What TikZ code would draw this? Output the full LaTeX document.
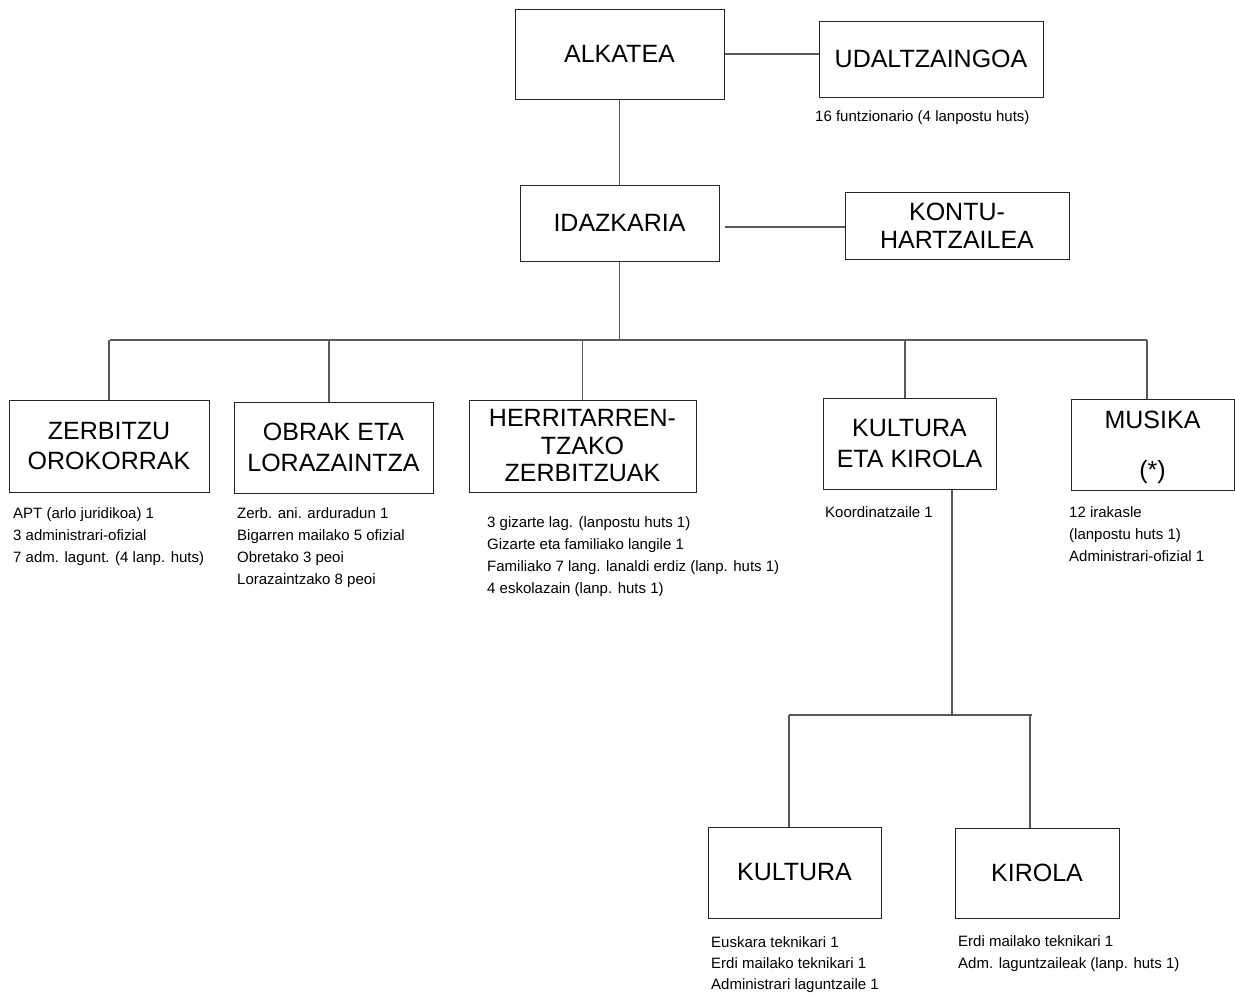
\documentclass[tikz,border=0pt]{standalone}
\usepackage{fontspec}
\setmainfont{Liberation Sans}
\begin{document}
\begin{tikzpicture}[x=1pt,y=-1pt,
  box/.style={draw=black!85, line width=1pt, align=center, inner sep=0pt, font=\fontsize{25}{30}\selectfont},
  link/.style={draw=black!65, line width=1.3pt},
  note/.style={anchor=north west, inner sep=0pt, align=left, font=\fontsize{15}{22}\selectfont}]
\useasboundingbox (0,0) rectangle (1235,993);

% boxes
\node[box, minimum width=209, minimum height=90] (alk) at (619.5,54) {ALKATEA};
\node[box, minimum width=224, minimum height=76] (uda) at (931,59) {UDALTZAINGOA};
\node[box, minimum width=199, minimum height=76] (ida) at (619.5,223) {IDAZKARIA};
\node[box, minimum width=224, minimum height=67, font=\fontsize{25}{28}\selectfont] (kon) at (957,225.5) {KONTU-\\HARTZAILEA};
\node[box, minimum width=200, minimum height=92] (zer) at (109,446) {ZERBITZU\\OROKORRAK};
\node[box, minimum width=199, minimum height=91, font=\fontsize{25}{31}\selectfont] (obr) at (333.5,447.5) {OBRAK ETA\\LORAZAINTZA};
\node[box, minimum width=227, minimum height=92, font=\fontsize{25}{27.5}\selectfont] (her) at (582.5,446) {HERRITARREN-\\TZAKO\\ZERBITZUAK};
\node[box, minimum width=173, minimum height=91, font=\fontsize{25}{31}\selectfont] (kek) at (909.5,443.5) {KULTURA\\ETA KIROLA};
\node[box, minimum width=163, minimum height=91, font=\fontsize{25}{50}\selectfont] (mus) at (1152.5,444.5) {\rule{0pt}{24pt}MUSIKA\\(*)};
\node[box, minimum width=173, minimum height=91] (kul) at (794.5,872.5) {KULTURA};
\node[box, minimum width=164, minimum height=90] (kir) at (1037,873) {KIROLA};

% notes
\node[note] (nuda) at (815,110) {16 funtzionario (4 lanpostu huts)};
\node[note] (nzer) at (13,507) {APT (arlo juridikoa) 1\\3 administrari-ofizial\\7 adm. lagunt. (4 lanp. huts)};
\node[note] (nobr) at (237,507) {Zerb. ani. arduradun 1\\Bigarren mailako 5 ofizial\\Obretako 3 peoi\\Lorazaintzako 8 peoi};
\node[note] (nher) at (487,516) {3 gizarte lag. (lanpostu huts 1)\\Gizarte eta familiako langile 1\\Familiako 7 lang. lanaldi erdiz (lanp. huts 1)\\4 eskolazain (lanp. huts 1)};
\node[note] (nkek) at (825,506) {Koordinatzaile 1};
\node[note] (nmus) at (1069,506) {12 irakasle\\(lanpostu huts 1)\\Administrari-ofizial 1};
\node[note, font=\fontsize{15}{21}\selectfont] (nkul) at (711,936) {Euskara teknikari 1\\Erdi mailako teknikari 1\\Administrari laguntzaile 1};
\node[note] (nkir) at (958,935) {Erdi mailako teknikari 1\\Adm. laguntzaileak (lanp. huts 1)};

% connectors, top
\draw[link] (alk.east) -- (alk.east -| uda.west);
\draw[link] (alk.south) -- (ida.north);
\coordinate (kl) at (725,227);
\draw[link] (kl) -- (kl -| kon.west);

% main bar
\coordinate (bL) at (110,340);
\coordinate (bR) at (1147,340);
\draw[link] (bL) -- (bR);
\draw[link] (ida.south) -- (ida.south |- bL);
\draw[link] (zer.north |- bL) -- (zer.north);
\draw[link] ([xshift=-4.5pt]obr.north |- bL) -- ([xshift=-4.5pt]obr.north);
\draw[link] (her.north |- bL) -- (her.north);
\draw[link] ([xshift=-4.5pt]kek.north |- bL) -- ([xshift=-4.5pt]kek.north);
\draw[link] ([xshift=-5.5pt]mus.north |- bL) -- ([xshift=-5.5pt]mus.north);

% lower bar
\coordinate (sL) at (789,715);
\coordinate (sR) at (1032,715);
\coordinate (sM) at (952,715);
\draw[link] (sL) -- (sR);
\draw[link] (sM |- kek.south) -- (sM);
\draw[link] ([xshift=-5.5pt]kul.north |- sL) -- ([xshift=-5.5pt]kul.north);
\draw[link] ([xshift=-7pt]kir.north |- sL) -- ([xshift=-7pt]kir.north);
\end{tikzpicture}
\end{document}
